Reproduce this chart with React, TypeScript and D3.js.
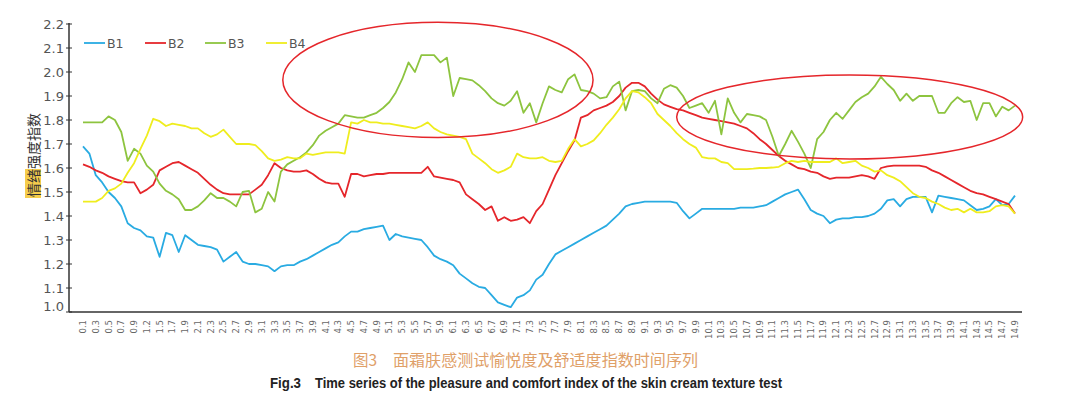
import { useEffect, useRef } from 'react';
import * as d3 from 'd3';

// x tick labels (time, s) — one label every second sample
const xLabels = [
  '0.1', '0.3', '0.5', '0.7', '0.9', '1.2', '1.5', '1.7', '1.9',
  '2.1', '2.3', '2.5', '2.7', '2.9', '3.1', '3.3', '3.5', '3.7', '3.9',
  '4.1', '4.3', '4.5', '4.7', '4.9', '5.1', '5.3', '5.5', '5.7', '5.9',
  '6.1', '6.3', '6.5', '6.7', '6.9', '7.1', '7.3', '7.5', '7.7', '7.9',
  '8.1', '8.3', '8.5', '8.7', '8.9', '9.1', '9.3', '9.5', '9.7', '9.9',
  '10.1', '10.3', '10.5', '10.7', '10.9', '11.1', '11.3', '11.5', '11.7', '11.9',
  '12.1', '12.3', '12.5', '12.7', '12.9', '13.1', '13.3', '13.5', '13.7', '13.9',
  '14.1', '14.3', '14.5', '14.7', '14.9',
];

const yTicks = [1.0, 1.1, 1.2, 1.3, 1.4, 1.5, 1.6, 1.7, 1.8, 1.9, 2.0, 2.1, 2.2];

const seriesNames = ['B1', 'B2', 'B3', 'B4'];
const seriesColors = ['#29abe2', '#e5262b', '#8dc43f', '#efed1e'];

const b1 = [
  1.69, 1.66, 1.57, 1.54, 1.50, 1.475, 1.44, 1.37, 1.35, 1.34,
  1.315, 1.31, 1.23, 1.33, 1.32, 1.25, 1.32, 1.30, 1.28, 1.275,
  1.27, 1.26, 1.21, 1.23, 1.25, 1.21, 1.20, 1.20, 1.195, 1.19,
  1.17, 1.19, 1.195, 1.195, 1.21, 1.22, 1.235, 1.25, 1.265, 1.28,
  1.29, 1.315, 1.335, 1.335, 1.345, 1.35, 1.355, 1.36, 1.30, 1.325,
  1.315, 1.31, 1.305, 1.30, 1.27, 1.235, 1.22, 1.21, 1.195, 1.16,
  1.14, 1.12, 1.105, 1.10, 1.07, 1.04, 1.03, 1.02, 1.06, 1.07,
  1.09, 1.135, 1.155, 1.20, 1.24, 1.255, 1.27, 1.285, 1.30, 1.315,
  1.33, 1.345, 1.36, 1.385, 1.41, 1.44, 1.45, 1.455, 1.46, 1.46,
  1.46, 1.46, 1.46, 1.455, 1.42, 1.39, 1.41, 1.43, 1.43, 1.43,
  1.43, 1.43, 1.43, 1.435, 1.435, 1.435, 1.44, 1.445, 1.46, 1.475,
  1.49, 1.50, 1.51, 1.47, 1.425, 1.41, 1.40, 1.37, 1.385, 1.39,
  1.39, 1.395, 1.395, 1.40, 1.41, 1.43, 1.465, 1.47, 1.44, 1.47,
  1.48, 1.48, 1.48, 1.415, 1.485, 1.48, 1.475, 1.47, 1.465, 1.445,
  1.425, 1.43, 1.44, 1.47, 1.445, 1.45, 1.485,
];

const b2 = [
  1.615, 1.605, 1.59, 1.58, 1.565, 1.555, 1.545, 1.54, 1.54, 1.495,
  1.51, 1.53, 1.59, 1.605, 1.62, 1.625, 1.61, 1.595, 1.58, 1.555,
  1.53, 1.51, 1.495, 1.49, 1.49, 1.49, 1.49, 1.51, 1.53, 1.57,
  1.62, 1.60, 1.59, 1.585, 1.585, 1.59, 1.575, 1.555, 1.54, 1.535,
  1.535, 1.48, 1.575, 1.575, 1.565, 1.57, 1.575, 1.575, 1.58, 1.58,
  1.58, 1.58, 1.58, 1.58, 1.605, 1.565, 1.56, 1.555, 1.55, 1.54,
  1.49, 1.47, 1.45, 1.425, 1.44, 1.38, 1.395, 1.38, 1.385, 1.395,
  1.37, 1.42, 1.45, 1.51, 1.57, 1.62, 1.67, 1.715, 1.81, 1.82,
  1.84, 1.85, 1.86, 1.875, 1.90, 1.935, 1.955, 1.955, 1.94, 1.91,
  1.885, 1.865, 1.855, 1.845, 1.84, 1.83, 1.82, 1.81, 1.805, 1.80,
  1.795, 1.79, 1.785, 1.775, 1.765, 1.745, 1.72, 1.70, 1.675, 1.65,
  1.63, 1.615, 1.60, 1.595, 1.585, 1.58, 1.565, 1.555, 1.56, 1.56,
  1.56, 1.565, 1.57, 1.565, 1.555, 1.60, 1.607, 1.61, 1.61, 1.61,
  1.61, 1.61, 1.605, 1.59, 1.58, 1.565, 1.55, 1.535, 1.52, 1.505,
  1.495, 1.49, 1.48, 1.47, 1.46, 1.45, 1.41,
];

const b3 = [
  1.79, 1.79, 1.79, 1.79, 1.815, 1.80, 1.75, 1.63, 1.68, 1.66,
  1.61, 1.585, 1.535, 1.505, 1.49, 1.47, 1.425, 1.425, 1.44, 1.465,
  1.495, 1.475, 1.475, 1.46, 1.44, 1.50, 1.505, 1.415, 1.43, 1.50,
  1.46, 1.585, 1.615, 1.63, 1.645, 1.665, 1.695, 1.735, 1.755, 1.77,
  1.785, 1.82, 1.815, 1.81, 1.81, 1.82, 1.83, 1.85, 1.875, 1.915,
  1.97, 2.04, 2.00, 2.07, 2.07, 2.07, 2.04, 2.06, 1.90, 1.975,
  1.97, 1.965, 1.945, 1.92, 1.89, 1.87, 1.86, 1.88, 1.92, 1.83,
  1.87, 1.79, 1.87, 1.94, 1.925, 1.915, 1.97, 1.99, 1.925, 1.92,
  1.91, 1.89, 1.895, 1.94, 1.96, 1.84, 1.92, 1.925, 1.92, 1.89,
  1.87, 1.93, 1.945, 1.935, 1.90, 1.85, 1.86, 1.87, 1.83, 1.88,
  1.74, 1.89, 1.83, 1.79, 1.825, 1.82, 1.815, 1.80, 1.73, 1.65,
  1.70, 1.755, 1.71, 1.66, 1.60, 1.72, 1.75, 1.80, 1.83, 1.805,
  1.84, 1.875, 1.895, 1.91, 1.94, 1.98, 1.95, 1.925, 1.88, 1.91,
  1.88, 1.90, 1.90, 1.90, 1.83, 1.83, 1.87, 1.895, 1.875, 1.88,
  1.80, 1.87, 1.87, 1.815, 1.855, 1.84, 1.86,
];

const b4 = [
  1.46, 1.46, 1.46, 1.475, 1.505, 1.515, 1.535, 1.58, 1.62, 1.68,
  1.735, 1.805, 1.795, 1.775, 1.785, 1.78, 1.775, 1.765, 1.765, 1.745,
  1.73, 1.74, 1.76, 1.73, 1.70, 1.70, 1.70, 1.695, 1.67, 1.64,
  1.63, 1.635, 1.645, 1.64, 1.64, 1.66, 1.655, 1.66, 1.665, 1.665,
  1.665, 1.66, 1.79, 1.785, 1.80, 1.79, 1.79, 1.785, 1.785, 1.78,
  1.775, 1.77, 1.765, 1.775, 1.79, 1.765, 1.75, 1.74, 1.735, 1.73,
  1.72, 1.66, 1.64, 1.62, 1.595, 1.58, 1.59, 1.605, 1.66, 1.645,
  1.64, 1.64, 1.645, 1.63, 1.625, 1.63, 1.68, 1.72, 1.69, 1.70,
  1.715, 1.745, 1.78, 1.81, 1.845, 1.89, 1.92, 1.915, 1.895, 1.87,
  1.825, 1.80, 1.775, 1.745, 1.72, 1.70, 1.685, 1.645, 1.64, 1.64,
  1.625, 1.62, 1.595, 1.595, 1.595, 1.597, 1.60, 1.60, 1.602, 1.605,
  1.62, 1.63, 1.625, 1.63, 1.625, 1.625, 1.625, 1.625, 1.64, 1.62,
  1.625, 1.63, 1.61, 1.60, 1.585, 1.59, 1.57, 1.56, 1.545, 1.52,
  1.495, 1.48, 1.475, 1.46, 1.45, 1.435, 1.425, 1.43, 1.415, 1.43,
  1.415, 1.415, 1.42, 1.44, 1.445, 1.44, 1.41,
];

// hand-drawn red ellipses, in data units (sample index, index value)
const highlights = [
  { cx: 55.6, cy: 1.967, rx: 24.3, ry: 0.24 },
  { cx: 120.1, cy: 1.8125, rx: 27.1, ry: 0.175 },
];

const W = 1080;
const H = 401;

export default function App() {
  const svgRef = useRef<SVGSVGElement>(null);

  useEffect(() => {
    if (!svgRef.current) return;
    const svg = d3.select(svgRef.current);
    svg.selectAll('*').remove();

    const left = 69;
    const right = 1022;
    const top = 24;
    const bottom = 312;

    const nSamples = b1.length;
    const x = d3.scaleLinear().domain([0, nSamples - 1]).range([83, 1015]);
    const y = d3.scaleLinear().domain([1.0, 2.2]).range([bottom, top]);

    svg.append('rect').attr('width', W).attr('height', H).attr('fill', '#fff');

    // series
    const line = d3.line<number>()
      .x((_, i) => x(i))
      .y(d => y(d));

    [b1, b2, b3, b4].forEach((data, k) => {
      svg.append('path')
        .datum(data)
        .attr('d', line)
        .attr('fill', 'none')
        .attr('stroke', seriesColors[k])
        .attr('stroke-width', 1.8)
        .attr('stroke-linejoin', 'round');
    });

    // red ellipses
    highlights.forEach(h => {
      svg.append('ellipse')
        .attr('cx', x(h.cx))
        .attr('cy', y(h.cy))
        .attr('rx', x(h.rx) - x(0))
        .attr('ry', y(1.0) - y(1.0 + h.ry))
        .attr('fill', 'none')
        .attr('stroke', '#e5262b')
        .attr('stroke-width', 1.5);
    });

    // axes
    svg.append('line')
      .attr('x1', left).attr('x2', left)
      .attr('y1', top - 1).attr('y2', bottom)
      .attr('stroke', '#333').attr('stroke-width', 1.5);
    svg.append('line')
      .attr('x1', left).attr('x2', right)
      .attr('y1', bottom).attr('y2', bottom)
      .attr('stroke', '#333').attr('stroke-width', 1.5);

    const yg = svg.append('g');
    yTicks.forEach(t => {
      yg.append('line')
        .attr('x1', left - 3).attr('x2', left + 3)
        .attr('y1', y(t)).attr('y2', y(t))
        .attr('stroke', '#333').attr('stroke-width', 1);
      yg.append('text')
        .attr('x', 64)
        .attr('y', y(t) - (t === 1.0 ? 6 : 0))
        .attr('text-anchor', 'end')
        .attr('dominant-baseline', 'central')
        .attr('font-family', '"DejaVu Sans", sans-serif')
        .attr('font-size', 13)
        .attr('fill', '#555')
        .text(t.toFixed(1));
    });

    const xg = svg.append('g');
    xLabels.forEach((lab, i) => {
      xg.append('text')
        .attr('transform', `translate(${x(i * 2)}, 320) rotate(-90)`)
        .attr('text-anchor', 'end')
        .attr('dominant-baseline', 'central')
        .attr('font-family', '"DejaVu Sans", sans-serif')
        .attr('font-size', 8.5)
        .attr('fill', '#666')
        .text(lab);
    });

    // y title with highlighted first two characters
    const yt = svg.append('g').attr('transform', 'translate(33, 155) rotate(-90)');
    yt.append('rect')
      .attr('x', -43).attr('y', -8)
      .attr('width', 29).attr('height', 16)
      .attr('fill', '#f6cd4c');
    yt.append('text')
      .attr('text-anchor', 'middle')
      .attr('dominant-baseline', 'central')
      .attr('font-family', '"Noto Sans CJK SC", sans-serif')
      .attr('font-size', 14)
      .attr('fill', '#333')
      .text('情绪强度指数');

    // legend
    const legendX = [84, 145, 205, 266];
    seriesNames.forEach((name, k) => {
      const lx = legendX[k];
      svg.append('line')
        .attr('x1', lx).attr('x2', lx + 21)
        .attr('y1', 43).attr('y2', 43)
        .attr('stroke', seriesColors[k])
        .attr('stroke-width', 1.8);
      svg.append('text')
        .attr('x', lx + 23)
        .attr('y', 43)
        .attr('dominant-baseline', 'central')
        .attr('font-family', '"DejaVu Sans", sans-serif')
        .attr('font-size', 12.5)
        .attr('fill', '#555')
        .text(name);
    });

    // captions
    svg.append('text')
      .attr('x', 353).attr('y', 366)
      .attr('font-family', '"Noto Sans CJK SC", sans-serif')
      .attr('font-size', 15.5)
      .attr('fill', '#e0a068')
      .text('图3');
    svg.append('text')
      .attr('x', 393).attr('y', 366)
      .attr('font-family', '"Noto Sans CJK SC", sans-serif')
      .attr('font-size', 15.5)
      .attr('fill', '#e0a068')
      .attr('textLength', 305)
      .attr('lengthAdjust', 'spacingAndGlyphs')
      .text('面霜肤感测试愉悦度及舒适度指数时间序列');

    svg.append('text')
      .attr('x', 270).attr('y', 388)
      .attr('font-family', '"Liberation Sans", Arial, sans-serif')
      .attr('font-weight', 'bold')
      .attr('font-size', 14.5)
      .attr('fill', '#222')
      .attr('textLength', 31)
      .attr('lengthAdjust', 'spacingAndGlyphs')
      .text('Fig.3');
    svg.append('text')
      .attr('x', 315).attr('y', 388)
      .attr('font-family', '"Liberation Sans", Arial, sans-serif')
      .attr('font-weight', 'bold')
      .attr('font-size', 14.5)
      .attr('fill', '#222')
      .attr('textLength', 467)
      .attr('lengthAdjust', 'spacingAndGlyphs')
      .text('Time series of the pleasure and comfort index of the skin cream texture test');
  }, []);

  return (
    <div style={{ position: 'absolute', left: 0, top: 0 }}>
      <svg ref={svgRef} width={W} height={H} style={{ display: 'block' }} />
    </div>
  );
}
